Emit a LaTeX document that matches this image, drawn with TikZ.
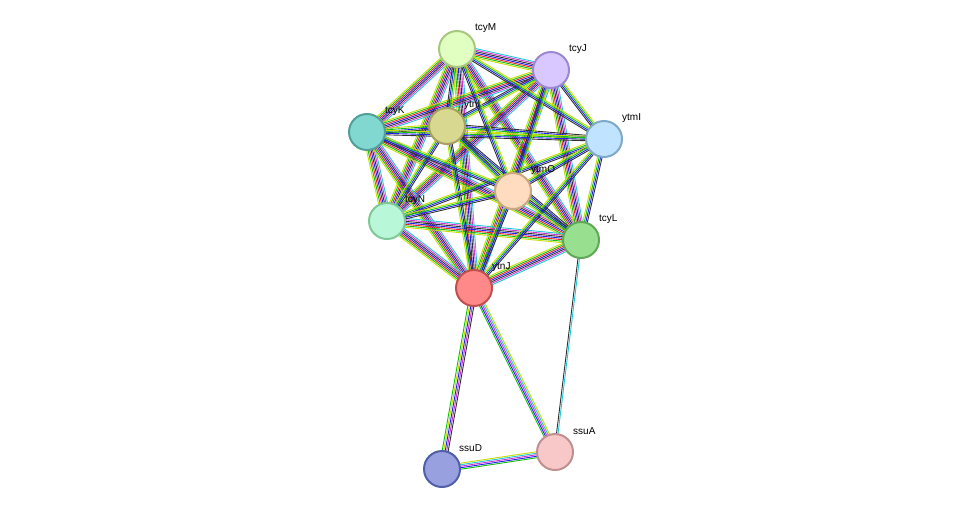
\documentclass[tikz,border=0pt]{standalone}
\usepackage{fontspec}
\setmainfont{Liberation Sans}
\usetikzlibrary{calc,backgrounds}
\definecolor{tm}{HTML}{C8DC00}
\definecolor{nb}{HTML}{10C010}
\definecolor{fu}{HTML}{F02020}
\definecolor{cooc}{HTML}{2020F0}
\definecolor{coex}{HTML}{303030}
\definecolor{ex}{HTML}{D030D0}
\definecolor{db}{HTML}{20C8D8}
\newcommand\bund[4]{%
  \foreach \cc [count=\ii] in {#4} {%
    \pgfmathsetmacro\oo{(\ii-(#3+1)/2)*1.5}%
    \draw[\cc,line width=0.9pt] ($(#1.center)!\oo pt!90:(#2.center)$) -- ($(#2.center)!\oo pt!-90:(#1.center)$);
  }}
\tikzset{
  prot/.style={circle,minimum size=36pt,line width=2pt,inner sep=0pt},
  lab/.style={font=\fontsize{10pt}{11pt}\selectfont,anchor=west,inner sep=1pt}
}
\begin{document}
\begin{tikzpicture}[x=1pt,y=-1pt]
\useasboundingbox (0,0) rectangle (976,515);
\node[prot,fill={rgb,255:red,224;green,255;blue,192},draw={rgb,255:red,168;green,200;blue,128}] (M) at (457,49) {};
\node[prot,fill={rgb,255:red,216;green,200;blue,255},draw={rgb,255:red,156;green,136;blue,208}] (J) at (551,70) {};
\node[prot,fill={rgb,255:red,128;green,216;blue,208},draw={rgb,255:red,80;green,160;blue,152}] (K) at (367,132) {};
\node[prot,fill={rgb,255:red,216;green,216;blue,144},draw={rgb,255:red,168;green,160;blue,96}] (I) at (447,126) {};
\node[prot,fill={rgb,255:red,192;green,228;blue,255},draw={rgb,255:red,128;green,168;blue,200}] (Y) at (604,139) {};
\node[prot,fill={rgb,255:red,255;green,220;blue,192},draw={rgb,255:red,200;green,168;blue,128}] (O) at (513,191) {};
\node[prot,fill={rgb,255:red,184;green,248;blue,216},draw={rgb,255:red,128;green,200;blue,152}] (N) at (387,221) {};
\node[prot,fill={rgb,255:red,152;green,224;blue,144},draw={rgb,255:red,96;green,168;blue,88}] (L) at (581,240) {};
\node[prot,fill={rgb,255:red,255;green,136;blue,136},draw={rgb,255:red,192;green,80;blue,80}] (T) at (474,288) {};
\node[prot,fill={rgb,255:red,248;green,200;blue,200},draw={rgb,255:red,192;green,144;blue,144}] (A) at (555,452) {};
\node[prot,fill={rgb,255:red,152;green,160;blue,224},draw={rgb,255:red,80;green,96;blue,168}] (D) at (442,469) {};
\begin{scope}[on background layer]
\fill[white] (0,0) rectangle (976,515);
\foreach \a/\b in {M/J,M/K,M/N,M/L,M/T,J/K,J/N,J/L,J/T,K/N,K/L,K/T,N/L,N/T,L/T}
  {\bund{\a}{\b}{7}{tm,nb,fu,cooc,coex,ex,db}}
\foreach \a/\b in {I/M,I/J,I/K,I/N,I/L,I/T,I/Y,I/O,Y/M,Y/J,Y/K,Y/N,Y/L,Y/O,Y/T,O/M,O/J,O/K,O/N,O/L,O/T}
  {\bund{\a}{\b}{4}{tm,nb,cooc,coex}}
\bund{T}{D}{5}{nb,tm,cooc,ex,coex}
\bund{T}{A}{5}{nb,cooc,ex,db,tm}
\bund{L}{A}{2}{coex,db}
\bund{D}{A}{5}{nb,cooc,ex,db,tm}
\end{scope}
\node[lab] (lM) at ($(M)+(17,-21)$) {tcyM};
\node[lab] (lJ) at ($(J)+(17,-21)$) {tcyJ};
\node[lab] (lK) at ($(K)+(17,-21)$) {tcyK};
\node[lab] (lI) at ($(I)+(16,-21)$) {ytnI};
\node[lab] (lY) at ($(Y)+(17,-21)$) {ytmI};
\node[lab] (lO) at ($(O)+(17,-21)$) {ytmO};
\node[lab] (lN) at ($(N)+(17,-21)$) {tcyN};
\node[lab] (lL) at ($(L)+(17,-21)$) {tcyL};
\node[lab] (lT) at ($(T)+(17,-21)$) {ytnJ};
\node[lab] (lA) at ($(A)+(17,-21)$) {ssuA};
\node[lab] (lD) at ($(D)+(16,-21)$) {ssuD};
\end{tikzpicture}
\end{document}
